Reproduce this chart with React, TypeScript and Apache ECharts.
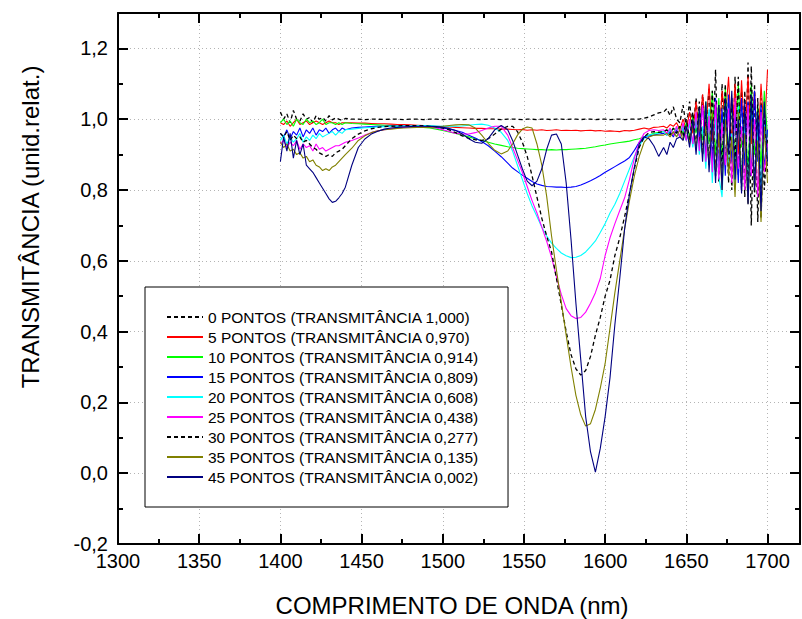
import React, { useEffect, useRef } from "react";
import * as echarts from "echarts";

// Wavelength grid (nm)
const wavelengths = [
  1400, 1402, 1404, 1406, 1408, 1410, 1412, 1414, 1416, 1418, 1420, 1422, 1424, 1426, 1428, 1430, 1432, 1434, 1436, 1438, 1440,
  1444, 1448, 1452, 1456, 1460, 1464, 1468, 1472, 1476, 1480, 1484, 1488, 1492, 1496, 1500, 1504, 1508, 1512, 1516, 1520, 1524, 1528, 1532, 1536, 1540,
  1543, 1546, 1549, 1552, 1555, 1558, 1561, 1564, 1567, 1570, 1573, 1576, 1579, 1582, 1585, 1588, 1591, 1594, 1597, 1600, 1603, 1606, 1609, 1612, 1615, 1618, 1621, 1624, 1627, 1630, 1633,
  1636, 1638, 1640, 1642, 1644, 1646, 1648, 1650, 1652, 1654, 1656, 1658, 1660, 1662, 1664, 1666, 1668, 1670, 1672, 1674, 1676, 1678, 1680, 1682, 1684, 1686, 1688, 1690, 1692, 1694, 1696, 1698, 1700,
];

const pontos0 = [
  1.02, 1.0, 1.015, 0.99, 1.025, 1.0, 0.995, 1.015, 1.0, 1.005, 0.99, 1.01, 1.0, 1.005, 0.995, 1.01, 0.998, 1.004, 1.0, 0.997, 1.002,
  1.0, 1.0, 0.999, 1.0, 1.0, 0.999, 1.0, 1.0, 0.999, 1.0, 1.0, 0.999, 1.0, 1.0, 0.999, 1.0, 1.0, 0.999, 1.0, 1.0, 0.999, 1.0, 1.0, 0.999, 1.0,
  1.0, 1.0, 0.999, 1.0, 1.0, 0.999, 1.0, 1.0, 0.999, 1.0, 1.0, 0.999, 1.0, 1.0, 0.999, 1.0, 1.0, 0.999, 1.0, 1.0, 0.999, 1.0, 1.0, 0.999, 1.0, 1.0, 1.0, 1.003, 1.006, 1.012, 1.018,
  1.02, 1.03, 1.01, 1.035, 1.0, 0.99, 1.04, 0.975, 1.05, 0.96, 1.06, 0.93, 1.07, 0.95, 1.09, 0.87, 1.14, 0.82, 1.1, 0.87, 1.06, 0.8, 1.12, 0.84, 1.08, 0.78, 1.16, 0.7, 1.1, 0.71, 1.06, 0.8, 0.95,
];

const pontos5 = [
  0.99, 0.985, 0.995, 0.98, 0.99, 1.0, 0.985, 0.99, 0.995, 0.985, 0.99, 0.995, 0.99, 0.985, 0.99, 0.995, 0.99, 0.99, 0.985, 0.99, 0.99,
  0.99, 0.989, 0.989, 0.988, 0.987, 0.987, 0.986, 0.985, 0.985, 0.984, 0.983, 0.982, 0.981, 0.98, 0.979, 0.978, 0.977, 0.976, 0.975, 0.974, 0.974, 0.973, 0.973, 0.972, 0.972,
  0.971, 0.97, 0.971, 0.969, 0.97, 0.969, 0.97, 0.968, 0.969, 0.97, 0.968, 0.969, 0.968, 0.969, 0.967, 0.968, 0.969, 0.967, 0.968, 0.966, 0.967, 0.966, 0.965, 0.968, 0.967, 0.969, 0.972, 0.975, 0.972, 0.977, 0.978,
  0.98, 0.975, 0.985, 0.98, 0.99, 0.97, 1.0, 0.97, 1.02, 0.96, 1.05, 0.95, 1.07, 0.97, 1.1, 0.94, 1.05, 0.92, 1.08, 1.0, 1.12, 0.93, 1.1, 0.9, 1.11, 0.95, 1.12, 0.93, 1.08, 0.9, 1.1, 0.95, 1.14,
];

const pontos10 = [
  0.99, 1.0, 0.985, 0.995, 0.98, 1.0, 0.99, 0.985, 1.0, 0.99, 0.995, 0.985, 0.99, 1.0, 0.985, 0.99, 0.99, 0.985, 0.99, 0.985, 0.99,
  0.988, 0.987, 0.986, 0.985, 0.984, 0.983, 0.982, 0.981, 0.98, 0.979, 0.978, 0.977, 0.975, 0.972, 0.968, 0.964, 0.96, 0.955, 0.95, 0.945, 0.94, 0.935, 0.93, 0.926, 0.922,
  0.92, 0.918, 0.917, 0.916, 0.915, 0.914, 0.914, 0.913, 0.914, 0.913, 0.914, 0.914, 0.915, 0.916, 0.917, 0.918, 0.92, 0.922, 0.925, 0.927, 0.93, 0.932, 0.934, 0.936, 0.938, 0.942, 0.945, 0.95, 0.955, 0.96, 0.963,
  0.965, 0.97, 0.96, 0.975, 0.965, 0.98, 0.96, 0.99, 0.95, 1.01, 0.96, 1.03, 0.94, 1.05, 0.93, 1.08, 0.9, 1.06, 0.88, 1.09, 0.91, 1.05, 0.87, 1.1, 0.92, 1.02, 0.85, 1.1, 0.9, 1.04, 0.86, 1.08, 0.95,
];

const pontos15 = [
  0.96, 0.95, 0.97, 0.945, 0.965, 0.955, 0.975, 0.95, 0.97, 0.96, 0.975, 0.955, 0.97, 0.965, 0.975, 0.96, 0.97, 0.975, 0.965, 0.975, 0.97,
  0.975, 0.977, 0.978, 0.979, 0.98, 0.98, 0.981, 0.981, 0.981, 0.98, 0.98, 0.98, 0.979, 0.977, 0.975, 0.972, 0.968, 0.963, 0.955, 0.947, 0.937, 0.925, 0.91, 0.894, 0.876,
  0.862, 0.852, 0.842, 0.833, 0.824, 0.817, 0.813, 0.81, 0.809, 0.808, 0.808, 0.807, 0.808, 0.81, 0.814, 0.82, 0.826, 0.833, 0.841, 0.85, 0.858, 0.866, 0.874, 0.882, 0.892, 0.912, 0.935, 0.95, 0.953, 0.955, 0.958,
  0.96, 0.955, 0.965, 0.95, 0.97, 0.95, 0.98, 0.94, 0.99, 0.93, 1.0, 0.95, 1.04, 0.9, 1.02, 0.88, 1.06, 0.86, 1.03, 0.84, 1.07, 0.88, 1.02, 0.82, 1.06, 0.87, 1.05, 0.84, 1.08, 0.88, 1.04, 0.86, 0.97,
];

const pontos20 = [
  0.94, 0.955, 0.93, 0.95, 0.935, 0.945, 0.96, 0.935, 0.95, 0.94, 0.955, 0.945, 0.96, 0.95, 0.955, 0.96, 0.965, 0.955, 0.965, 0.96, 0.97,
  0.972, 0.974, 0.976, 0.977, 0.978, 0.979, 0.98, 0.98, 0.981, 0.981, 0.982, 0.982, 0.982, 0.981, 0.98, 0.98, 0.98, 0.981, 0.983, 0.985, 0.986, 0.983, 0.975, 0.963, 0.94,
  0.91, 0.87, 0.83, 0.79, 0.755, 0.725, 0.695, 0.67, 0.65, 0.635, 0.622, 0.614, 0.609, 0.61, 0.615, 0.625, 0.64, 0.656, 0.68, 0.705, 0.735, 0.76, 0.79, 0.825, 0.86, 0.895, 0.925, 0.945, 0.955, 0.958, 0.96,
  0.965, 0.955, 0.97, 0.96, 0.975, 0.95, 0.98, 0.94, 0.99, 0.92, 1.01, 0.9, 0.98, 0.86, 1.03, 0.82, 1.0, 0.84, 0.78, 1.02, 0.86, 0.96, 0.8, 1.04, 0.83, 0.98, 0.78, 1.03, 0.82, 0.97, 0.8, 1.0, 0.9,
];

const pontos25 = [
  0.93, 0.94, 0.92, 0.935, 0.925, 0.94, 0.915, 0.93, 0.92, 0.925, 0.91, 0.93, 0.915, 0.92, 0.91, 0.915, 0.92, 0.925, 0.925, 0.93, 0.935,
  0.94, 0.947, 0.955, 0.962, 0.967, 0.97, 0.973, 0.975, 0.977, 0.978, 0.978, 0.978, 0.977, 0.975, 0.97, 0.965, 0.96, 0.958, 0.958, 0.962, 0.968, 0.975, 0.98, 0.98, 0.955,
  0.92, 0.885, 0.85, 0.81, 0.77, 0.735, 0.695, 0.655, 0.61, 0.555, 0.505, 0.465, 0.445, 0.437, 0.44, 0.455, 0.48, 0.51, 0.55, 0.615, 0.665, 0.705, 0.742, 0.778, 0.83, 0.89, 0.935, 0.96, 0.968, 0.97, 0.968,
  0.97, 0.96, 0.975, 0.955, 0.98, 0.95, 0.99, 0.94, 1.0, 0.93, 1.02, 0.91, 1.04, 0.88, 1.01, 0.85, 1.05, 0.83, 0.99, 0.87, 1.03, 0.82, 1.06, 0.86, 0.98, 0.8, 1.04, 0.84, 1.0, 0.78, 1.02, 0.85, 0.93,
];

const pontos30 = [
  0.96, 0.95, 0.965, 0.94, 0.955, 0.945, 0.95, 0.935, 0.94, 0.93, 0.92, 0.915, 0.905, 0.9, 0.895, 0.9, 0.895, 0.905, 0.91, 0.915, 0.925,
  0.945, 0.958, 0.967, 0.973, 0.977, 0.979, 0.98, 0.981, 0.982, 0.982, 0.982, 0.982, 0.98, 0.978, 0.975, 0.97, 0.962, 0.953, 0.946, 0.942, 0.94, 0.945, 0.958, 0.972, 0.98,
  0.98, 0.965, 0.935, 0.895, 0.84, 0.78, 0.72, 0.67, 0.625, 0.55, 0.475, 0.4, 0.335, 0.295, 0.277, 0.29, 0.33, 0.39, 0.44, 0.5, 0.545, 0.615, 0.665, 0.725, 0.79, 0.86, 0.92, 0.95, 0.962, 0.965, 0.963,
  0.965, 0.97, 0.955, 0.975, 0.96, 0.98, 0.95, 1.0, 0.94, 1.02, 0.92, 1.05, 0.9, 1.02, 0.87, 1.08, 0.84, 1.04, 0.86, 1.1, 0.82, 1.06, 0.88, 1.12, 0.8, 1.08, 0.76, 1.15, 0.78, 1.06, 0.72, 1.02, 0.85,
];

const pontos35 = [
  0.935, 0.92, 0.93, 0.91, 0.915, 0.9, 0.905, 0.89, 0.895, 0.88, 0.885, 0.87, 0.865, 0.855, 0.86, 0.855, 0.865, 0.87, 0.88, 0.89, 0.9,
  0.918, 0.94, 0.953, 0.962, 0.967, 0.97, 0.972, 0.974, 0.975, 0.976, 0.977, 0.977, 0.977, 0.978, 0.98, 0.982, 0.984, 0.985, 0.984, 0.975, 0.955, 0.932, 0.912, 0.902, 0.91,
  0.93, 0.955, 0.972, 0.978, 0.975, 0.93, 0.87, 0.782, 0.67, 0.574, 0.483, 0.39, 0.3, 0.22, 0.165, 0.133, 0.14, 0.18, 0.24, 0.31, 0.41, 0.51, 0.6, 0.69, 0.77, 0.84, 0.895, 0.935, 0.95, 0.955, 0.955,
  0.955, 0.96, 0.95, 0.965, 0.95, 0.97, 0.94, 0.975, 0.93, 0.99, 0.92, 1.0, 0.9, 0.98, 0.87, 1.02, 0.85, 0.96, 0.8, 1.0, 0.84, 0.95, 0.78, 1.02, 0.82, 0.96, 0.76, 1.0, 0.8, 0.94, 0.71, 0.98, 0.82,
];

const pontos45 = [
  0.88, 0.95, 0.91, 0.96, 0.89, 0.94, 0.9, 0.93, 0.87, 0.86, 0.85, 0.835, 0.82, 0.805, 0.79, 0.775, 0.765, 0.768, 0.778, 0.79, 0.808,
  0.87, 0.92, 0.944, 0.958, 0.966, 0.972, 0.975, 0.977, 0.978, 0.979, 0.98, 0.98, 0.98, 0.979, 0.977, 0.974, 0.968, 0.958, 0.945, 0.935, 0.932, 0.945, 0.97, 0.982, 0.97,
  0.94, 0.9, 0.86, 0.825, 0.812, 0.825, 0.86, 0.915, 0.955, 0.958, 0.93, 0.82, 0.66, 0.48, 0.32, 0.16, 0.06, 0.003, 0.07, 0.16, 0.27, 0.42, 0.55, 0.69, 0.79, 0.865, 0.93, 0.95, 0.945, 0.925, 0.895,
  0.92, 0.9, 0.935, 0.92, 0.945, 0.95, 0.94, 0.98, 0.92, 1.0, 0.9, 1.03, 0.88, 1.05, 0.85, 1.0, 0.82, 1.04, 0.8, 1.06, 0.9, 1.08, 0.83, 1.0, 0.79, 1.05, 0.76, 1.07, 0.8, 1.02, 0.74, 1.05, 0.88,
];

const seriesNames = [
  "0 PONTOS (TRANSMITÂNCIA 1,000)",
  "5 PONTOS (TRANSMITÂNCIA 0,970)",
  "10 PONTOS (TRANSMITÂNCIA 0,914)",
  "15 PONTOS (TRANSMITÂNCIA 0,809)",
  "20 PONTOS (TRANSMITÂNCIA 0,608)",
  "25 PONTOS (TRANSMITÂNCIA 0,438)",
  "30 PONTOS (TRANSMITÂNCIA 0,277)",
  "35 PONTOS (TRANSMITÂNCIA 0,135)",
  "45 PONTOS (TRANSMITÂNCIA 0,002)",
];
const seriesValues = [pontos0, pontos5, pontos10, pontos15, pontos20, pontos25, pontos30, pontos35, pontos45];
const seriesColors = ["#000000", "#ff0000", "#00ff00", "#0000ff", "#00ffff", "#ff00ff", "#000000", "#808000", "#000080"];
const seriesDashed = [true, false, false, false, false, false, true, false, false];

const xTitle = "COMPRIMENTO DE ONDA (nm)";
const yTitle = "TRANSMITÂNCIA (unid.relat.)";

const FONT = '"Liberation Sans", Arial, Helvetica, sans-serif';

export default function App() {
  const ref = useRef<HTMLDivElement>(null);

  useEffect(() => {
    if (!ref.current) return;
    const chart = echarts.init(ref.current, undefined, { renderer: "svg" });

    const axisLineStyle = { color: "#000", width: 2 };
    const gridLine = { show: true, lineStyle: { color: "#b4b4b4", width: 1, type: [1, 3] as any } };

    const xBase = { type: "value", min: 1300, max: 1720, interval: 50 };
    const yBase = { type: "value", min: -0.2, max: 1.3, interval: 0.2 };

    const fmtY = (v: number) => {
      const r = Math.round(v * 10) / 10;
      return (r === 0 ? "0.0" : r.toFixed(1)).replace(".", ",");
    };
    const fmtX = (v: number) => String(Math.round(v));

    const option: any = {
      animation: false,
      backgroundColor: "#ffffff",
      grid: { left: 118, top: 13, width: 682, height: 531, containLabel: false },
      xAxis: [
        {
          ...xBase,
          position: "bottom",
          axisLine: { show: true, onZero: false, lineStyle: axisLineStyle },
          axisTick: { show: true, inside: true, length: 10, lineStyle: axisLineStyle },
          minorTick: { show: true, splitNumber: 2, length: 5, lineStyle: axisLineStyle },
          axisLabel: { show: true, margin: 7, color: "#000", fontSize: 20, fontFamily: FONT, showMaxLabel: false, formatter: fmtX },
          splitLine: gridLine,
        },
        {
          ...xBase,
          position: "top",
          axisLine: { show: true, onZero: false, lineStyle: axisLineStyle },
          axisTick: { show: true, inside: true, length: 10, lineStyle: axisLineStyle },
          minorTick: { show: true, splitNumber: 2, length: 5, lineStyle: axisLineStyle },
          axisLabel: { show: false },
          splitLine: { show: false },
        },
      ],
      yAxis: [
        {
          ...yBase,
          position: "left",
          axisLine: { show: true, onZero: false, lineStyle: axisLineStyle },
          axisTick: { show: true, inside: true, length: 10, lineStyle: axisLineStyle },
          minorTick: { show: true, splitNumber: 2, length: 5, lineStyle: axisLineStyle },
          axisLabel: { show: true, margin: 10, color: "#000", fontSize: 20, fontFamily: FONT, showMaxLabel: false, formatter: fmtY },
          splitLine: gridLine,
        },
        {
          ...yBase,
          position: "right",
          axisLine: { show: true, onZero: false, lineStyle: axisLineStyle },
          axisTick: { show: true, inside: true, length: 10, lineStyle: axisLineStyle },
          minorTick: { show: true, splitNumber: 2, length: 5, lineStyle: axisLineStyle },
          axisLabel: { show: false },
          splitLine: { show: false },
        },
      ],
      legend: {
        show: true,
        orient: "vertical",
        left: 145,
        top: 287,
        padding: [22, 29, 22, 21],
        itemGap: 4,
        itemWidth: 36,
        itemHeight: 14,
        backgroundColor: "#ffffff",
        borderColor: "#000000",
        borderWidth: 1,
        itemStyle: { opacity: 0 },
        textStyle: { color: "#000", fontSize: 15.5, lineHeight: 15, fontFamily: FONT },
        data: seriesNames,
      },
      graphic: [
        {
          type: "text",
          x: 452,
          y: 605,
          style: {
            text: xTitle,
            font: `24px ${FONT}`,
            fill: "#000",
            align: "center",
            verticalAlign: "middle",
            textAlign: "center",
            textVerticalAlign: "middle",
          },
        },
        {
          type: "text",
          x: 30,
          y: 227,
          rotation: Math.PI / 2,
          style: {
            text: yTitle,
            font: `24px ${FONT}`,
            fill: "#000",
            align: "center",
            verticalAlign: "middle",
            textAlign: "center",
            textVerticalAlign: "middle",
          },
        },
      ],
      series: seriesNames.map((name, k) => ({
        name,
        type: "line",
        xAxisIndex: 0,
        yAxisIndex: 0,
        symbol: "none",
        showSymbol: false,
        clip: true,
        data: wavelengths.map((w, i) => [w, seriesValues[k][i]]),
        lineStyle: {
          color: seriesColors[k],
          width: seriesDashed[k] ? 1.3 : 1.1,
          type: seriesDashed[k] ? [4, 3] : "solid",
        },
        itemStyle: { color: seriesColors[k] },
        z: 2 + k * 0.01,
      })),
    };

    chart.setOption(option);
    return () => chart.dispose();
  }, []);

  return (
    <div
      ref={ref}
      style={{ position: "absolute", left: 0, top: 0, width: 802, height: 619 }}
    />
  );
}
